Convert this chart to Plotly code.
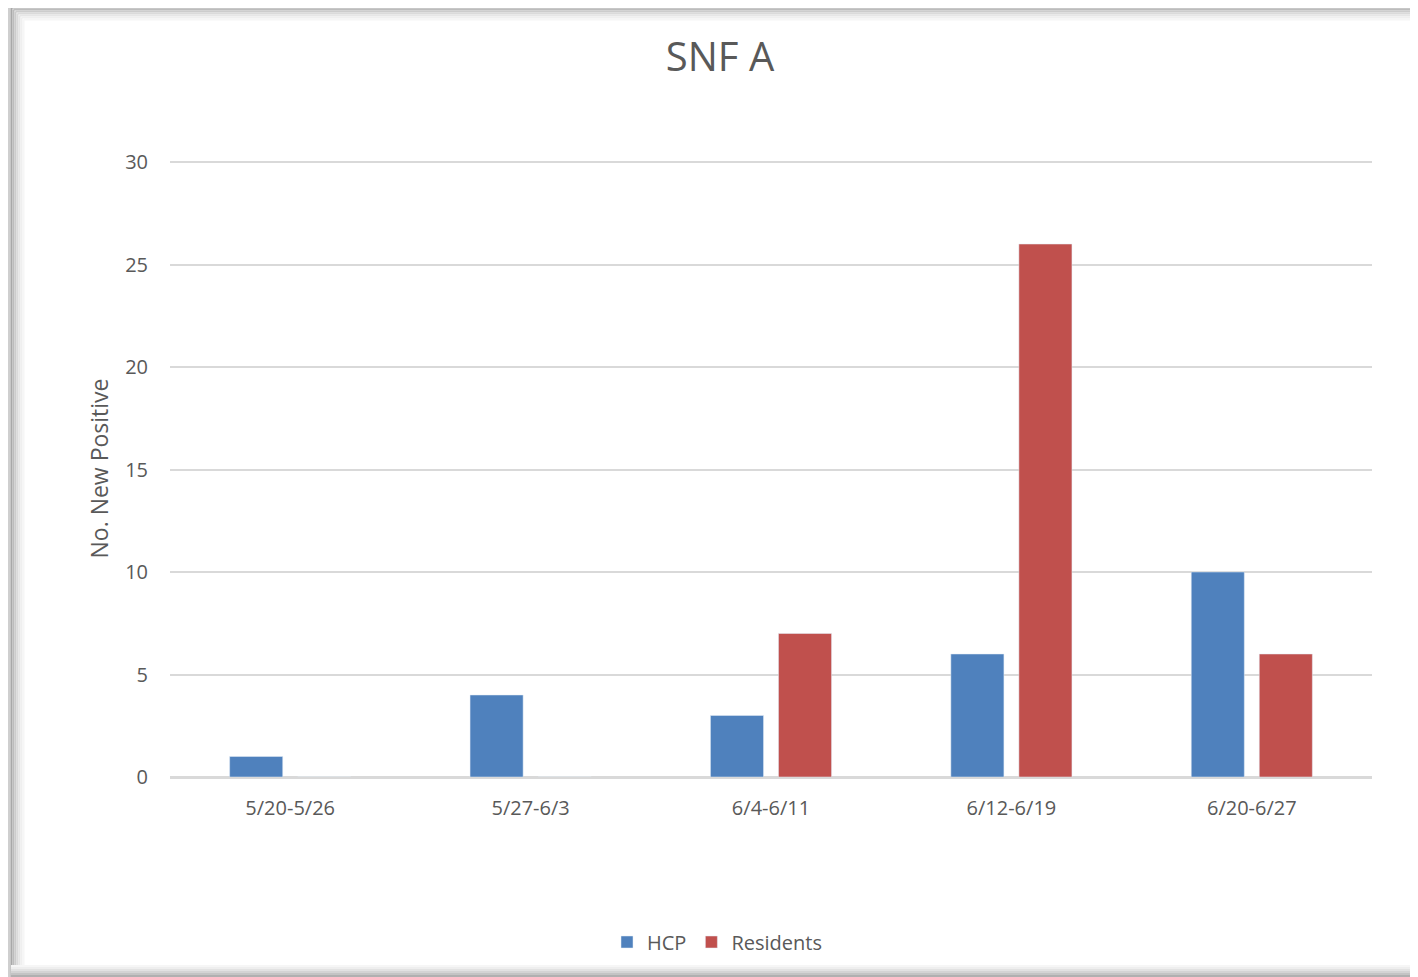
import plotly.graph_objects as go

categories = ["5/20-5/26", "5/27-6/3", "6/4-6/11", "6/12-6/19", "6/20-6/27"]
hcp = [1, 4, 3, 6, 10]
residents = [0, 0, 7, 26, 6]
y_ticks = [0, 5, 10, 15, 20, 25, 30]

FONT = "Open Sans, sans-serif"
GRAY = "#595959"

fig = go.Figure()
fig.add_trace(go.Bar(x=categories, y=hcp, name="HCP", marker_color="#4F81BD"))
fig.add_trace(go.Bar(x=categories, y=residents, name="Residents", marker_color="#C0504D"))

OFF = 8  # page body margin
W, H = 1410, 969
L, R, T, B = 162, 46, 152, 200
pw, ph = W - L - R, H - T - B

def px(x):  # screen x -> paper
    return (x - OFF - L) / pw

def py(y):  # screen y -> paper
    return (H - B - (y - OFF)) / ph

shapes = []
shapes.append(dict(type="line", xref="paper", yref="paper", x0=px(8), x1=px(1418), y0=py(5), y1=py(5),
                   line=dict(color="#cfcfcf", width=3), layer="below"))
shapes.append(dict(type="line", xref="paper", yref="paper", x0=px(9), x1=px(9), y0=py(4), y1=py(977),
                   line=dict(color="#cfcfcf", width=3), layer="below"))
for i, c in enumerate(["#a8a8a8", "#bcbcbc", "#cccccc", "#dadada", "#e6e6e6", "#efefef", "#f6f6f6"]):
    yy = 7.5 + i * 2
    xx = 11.5 + i * 2
    shapes.append(dict(type="line", xref="paper", yref="paper", x0=px(xx), x1=px(1418), y0=py(yy), y1=py(yy),
                       line=dict(color=c, width=2), layer="below"))
    shapes.append(dict(type="line", xref="paper", yref="paper", x0=px(xx), x1=px(xx), y0=py(yy), y1=py(977),
                       line=dict(color=c, width=2), layer="below"))
for i, c in enumerate(["#b0b0b0", "#c4c4c4", "#d4d4d4", "#e2e2e2", "#eeeeee", "#f6f6f6"]):
    yy = 976 - i * 2
    shapes.append(dict(type="line", xref="paper", yref="paper", x0=px(11), x1=px(1418), y0=py(yy), y1=py(yy),
                       line=dict(color=c, width=2), layer="below"))

fig.update_layout(
    width=W, height=H,
    margin=dict(l=L, r=R, t=T, b=B),
    paper_bgcolor="white", plot_bgcolor="white",
    font=dict(family=FONT, color=GRAY, size=20),
    title=dict(text="SNF A", x=(720 - OFF) / W, xref="container", xanchor="center",
               y=1 - (57 - OFF) / H, yref="container", yanchor="middle",
               font=dict(family=FONT, size=40, color=GRAY)),
    barmode="group", bargap=0.434, bargroupgap=0.22,
    showlegend=True,
    legend=dict(orientation="h", x=px(717), xanchor="center", y=py(942), yanchor="middle",
                font=dict(family=FONT, size=20, color=GRAY), itemwidth=30,
                traceorder="normal"),
    shapes=shapes,
)
fig.update_yaxes(range=[0, 30.1], tickvals=y_ticks, showgrid=True, gridcolor="#d9d9d9", gridwidth=1.5,
                 zeroline=True, zerolinecolor="#d9d9d9", zerolinewidth=1.5,
                 ticks="", ticklabelstandoff=21, showline=False,
                 title=dict(text="No. New Positive", standoff=10, font=dict(family=FONT, size=23, color=GRAY)),
                 tickfont=dict(family=FONT, size=20, color=GRAY))
fig.update_xaxes(showline=True, linecolor="#d9d9d9", linewidth=1.5, ticks="",
                 ticklabelstandoff=12, tickfont=dict(family=FONT, size=20, color=GRAY))

fig.write_html("out.html")
